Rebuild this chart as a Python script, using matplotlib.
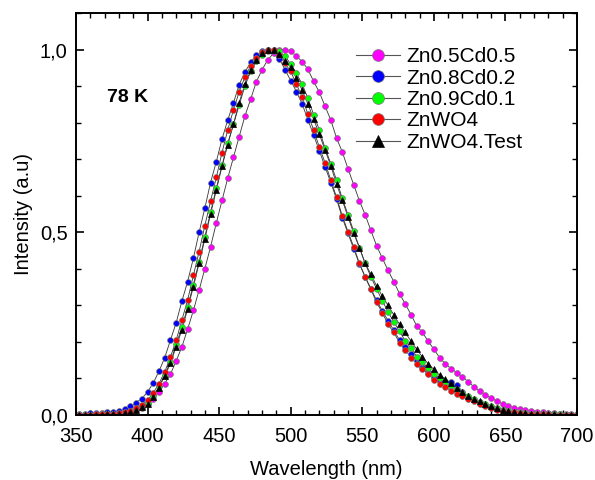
import matplotlib
matplotlib.use("Agg")
import matplotlib.pyplot as plt
from matplotlib.ticker import MultipleLocator, FuncFormatter

plt.rcParams['font.family'] = ['Liberation Sans', 'DejaVu Sans']

wavelength = list(range(352, 701, 4))

zn05cd05 = [0.001,0.001,0.001,0.002,0.002,0.002,0.003,0.004,0.006,0.009,0.013,0.020,
            0.029,0.043,0.063,0.086,0.112,0.148,0.187,0.235,0.286,0.342,0.400,0.460,
            0.525,0.587,0.648,0.705,0.762,0.818,0.864,0.912,0.945,0.972,0.990,1.000,
            1.000,0.995,0.982,0.967,0.946,0.913,0.883,0.845,0.807,0.758,0.720,0.674,
            0.630,0.586,0.548,0.505,0.463,0.429,0.396,0.365,0.332,0.304,0.275,0.244,
            0.226,0.202,0.180,0.157,0.140,0.127,0.116,0.104,0.091,0.077,0.066,0.055,
            0.047,0.038,0.030,0.025,0.020,0.016,0.013,0.011,0.008,0.007,0.006,0.005,
            0.004,0.003,0.003,0.002]

zn08cd02 = [0.004,0.004,0.005,0.005,0.006,0.007,0.009,0.011,0.016,0.024,0.034,0.045,
            0.063,0.088,0.120,0.157,0.205,0.253,0.312,0.365,0.429,0.500,0.566,0.636,
            0.693,0.755,0.807,0.854,0.904,0.938,0.965,0.985,0.995,1.000,0.995,0.975,
            0.945,0.915,0.885,0.851,0.808,0.766,0.723,0.679,0.636,0.591,0.540,0.497,
            0.455,0.413,0.378,0.345,0.314,0.285,0.258,0.232,0.205,0.186,0.166,0.150,
            0.132,0.116,0.102,0.095,0.090,0.089,0.082,0.062,0.050,0.042,0.034,0.028,
            0.022,0.017,0.013,0.010,0.008,0.006,0.005,0.004,0.003,0.003,0.002,0.002,
            0.002,0.001,0.001,0.001]

zn09cd01 = [0.001,0.001,0.001,0.001,0.002,0.002,0.002,0.003,0.005,0.008,0.014,0.022,
            0.033,0.052,0.078,0.110,0.146,0.193,0.240,0.296,0.357,0.420,0.487,0.555,
            0.620,0.683,0.743,0.796,0.848,0.900,0.940,0.968,0.986,0.997,1.000,0.995,
            0.982,0.960,0.935,0.905,0.867,0.822,0.780,0.730,0.688,0.643,0.593,0.548,
            0.503,0.458,0.415,0.378,0.345,0.313,0.282,0.255,0.229,0.203,0.183,0.160,
            0.145,0.128,0.113,0.100,0.088,0.080,0.070,0.060,0.051,0.043,0.036,0.029,
            0.024,0.019,0.015,0.011,0.009,0.007,0.005,0.004,0.003,0.003,0.002,0.002,
            0.002,0.001,0.001,0.001]

znwo4 = [0.001,0.001,0.001,0.002,0.002,0.003,0.004,0.005,0.007,0.011,0.018,0.028,
         0.040,0.061,0.086,0.118,0.159,0.205,0.260,0.315,0.382,0.447,0.518,0.585,
         0.650,0.718,0.780,0.835,0.884,0.925,0.955,0.978,0.993,1.000,0.998,0.985,
         0.962,0.940,0.905,0.870,0.823,0.780,0.733,0.690,0.643,0.596,0.545,0.502,
         0.460,0.415,0.378,0.344,0.308,0.280,0.248,0.226,0.198,0.179,0.157,0.139,
         0.125,0.113,0.097,0.086,0.077,0.066,0.058,0.053,0.043,0.037,0.030,0.025,
         0.020,0.015,0.011,0.009,0.007,0.005,0.004,0.003,0.002,0.002,0.002,0.001,
         0.001,0.001,0.001,0.001]

znwo4_test = [0.001,0.001,0.001,0.001,0.001,0.002,0.002,0.003,0.005,0.008,0.013,0.021,
              0.031,0.049,0.075,0.107,0.141,0.187,0.233,0.290,0.351,0.415,0.481,0.550,
              0.615,0.680,0.740,0.795,0.855,0.905,0.943,0.972,0.990,1.000,0.998,0.988,
              0.968,0.952,0.922,0.889,0.851,0.810,0.768,0.725,0.682,0.632,0.588,0.542,
              0.497,0.458,0.415,0.385,0.353,0.325,0.300,0.274,0.248,0.226,0.202,0.180,
              0.159,0.140,0.125,0.109,0.099,0.087,0.075,0.063,0.052,0.044,0.037,0.030,
              0.024,0.019,0.015,0.011,0.008,0.006,0.005,0.004,0.003,0.002,0.002,0.002,
              0.001,0.001,0.001,0.001]

labels = ['Zn0.5Cd0.5', 'Zn0.8Cd0.2', 'Zn0.9Cd0.1', 'ZnWO4', 'ZnWO4.Test']
series = [zn05cd05, zn08cd02, zn09cd01, znwo4, znwo4_test]
colors = ['#ff00ff', '#0000ff', '#00ff00', '#ff0000', '#000000']
markers = ['o', 'o', 'o', 'o', '^']

fig = plt.figure(figsize=(5.95, 4.8), dpi=100)
ax = fig.add_axes([76/595, 1-415/480, (577-76)/595, (415-13)/480])

handles = []
for y, lab, c, m in zip(series, labels, colors, markers):
    ax.plot(wavelength, y, color='#333333', lw=0.6, zorder=1)
    ax.plot(wavelength, y, ls='none', marker=m, ms=4.2 if m == 'o' else 4.6,
            mfc=c, mec='#777777' if m == 'o' else '#000000', mew=0.5, zorder=2)
    h, = ax.plot([], [], color='#555555', lw=0.8, marker=m, ms=8.5,
                 mfc=c, mec='#777777' if m == 'o' else '#000000', mew=0.5)
    handles.append(h)

ax.set_xlim(350, 700)
ax.set_ylim(0, 1.1)
ax.xaxis.set_major_locator(MultipleLocator(50))
ax.xaxis.set_minor_locator(MultipleLocator(10))
ax.yaxis.set_major_locator(MultipleLocator(0.5))
ax.yaxis.set_minor_locator(MultipleLocator(0.1))
ax.yaxis.set_major_formatter(FuncFormatter(lambda v, p: f"{v:.1f}".replace('.', ',')))
ax.tick_params(which='both', direction='in', top=True, right=True, labelsize=14.5)
ax.tick_params(which='major', length=6, width=1.2)
ax.tick_params(which='minor', length=3.5, width=1.0)
ax.tick_params(axis='x', which='major', pad=9)
ax.tick_params(axis='y', which='major', pad=6)
for s in ax.spines.values():
    s.set_linewidth(1.4)

ax.set_xlabel('Wavelength (nm)', fontsize=14.5, labelpad=10)
ax.set_ylabel('Intensity (a.u)', fontsize=14.5, labelpad=5)

ax.text(371.5, 0.868, '78 K', fontsize=14, fontweight='bold', va='center', ha='left')

fig.legend(handles, labels, loc='upper left', bbox_to_anchor=(356/595, 1-47/480),
           frameon=False, fontsize=15, borderpad=0, borderaxespad=0,
           handlelength=2.1, handletextpad=0.3, labelspacing=0.12)

fig.savefig('out.png', dpi=100)
